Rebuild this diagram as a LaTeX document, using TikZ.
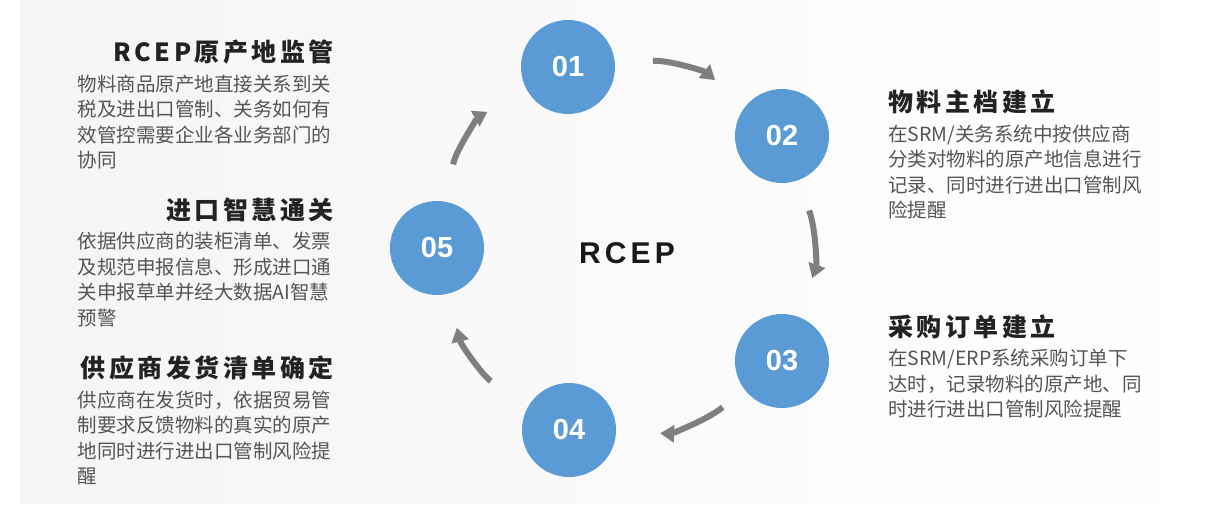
\documentclass[tikz,border=0pt]{standalone}
\usepackage{fontspec}
\setmainfont{Noto Sans CJK SC}
\newfontfamily\headfont{Noto Sans CJK SC}[LetterSpace=14]
\newfontfamily\numfont{Liberation Sans}
\newfontfamily\hubfont{Liberation Sans}[LetterSpace=14]
\usetikzlibrary{arrows.meta, positioning}

\definecolor{stageblue}{HTML}{5B9BD5}
\definecolor{flowgray}{HTML}{7F7F7F}
\definecolor{titlegray}{HTML}{222222}
\definecolor{bodygray}{HTML}{555555}

\begin{document}
\begin{tikzpicture}[
    x=1pt, y=1pt,
    stage/.style={circle, fill=stageblue, minimum size=94pt, inner sep=0pt, text=white, font=\numfont\bfseries\fontsize{29}{31}\selectfont},
    title/.style={inner sep=0pt, text=titlegray, font=\headfont\bfseries\fontsize{25}{29}\selectfont},
    body/.style={inner sep=0pt, align=left, text=bodygray, font=\fontsize{19.5}{25.5}\selectfont},
    flow/.style={line width=6pt, draw=flowgray, -{Triangle[length=14pt, width=17pt]}}
]

% Background
\fill [white] (0,0) rectangle (1222,-515);
\shade [left color=black!4, right color=white] (20,0) rectangle (1222,-503);

% Nodes
\node (c1) [stage] at (568,-67) {01};
\node (c2) [stage] at (782,-136) {02};
\node (c3) [stage] at (782,-361) {03};
\node (c4) [stage] at (569,-430) {04};
\node (c5) [stage] at (437,-248) {05};

\node (hub) at (627,-253) [font=\hubfont\bfseries\fontsize{30}{32}\selectfont, text=black!90] {RCEP};

% Texts
\node (h1) [title, anchor=east] at (334,-52) {RCEP原产地监管};
\node (t1) [body, text width=256pt, below=10pt of h1.south east, anchor=north east] {物料商品原产地直接关系到关\\税及进出口管制、关务如何有\\效管控需要企业各业务部门的\\协同};

\node (h5) [title, anchor=east] at (334,-210) {进口智慧通关};
\node (t5) [body, text width=256pt, below=10pt of h5.south east, anchor=north east] {依据供应商的装柜清单、发票\\及规范申报信息、形成进口通\\关申报草单并经大数据AI智慧\\预警};

\node (h4) [title, anchor=east] at (334,-368) {供应商发货清单确定};
\node (t4) [body, text width=256pt, below=10pt of h4.south east, anchor=north east] {供应商在发货时，依据贸易管\\制要求反馈物料的真实的原产\\地同时进行进出口管制风险提\\醒};

\node (h2) [title, anchor=west] at (888,-102) {物料主档建立};
\node (t2) [body, below=10pt of h2.south west, anchor=north west] {在SRM/关务系统中按供应商\\分类对物料的原产地信息进行\\记录、同时进行进出口管制风\\险提醒};

\node (h3) [title, anchor=west] at (888,-327) {采购订单建立};
\node (t3) [body, below=10pt of h3.south west, anchor=north west] {在SRM/ERP系统采购订单下\\达时，记录物料的原产地、同\\时进行进出口管制风险提醒};

% Arrows
\draw [flow, shorten <=38pt, shorten >=40pt] (c1) to[bend left=22] (c2);
\draw [flow, shorten <=32pt, shorten >=41pt] (c2) to[bend left=20] (c3);
\draw [flow, shorten <=28pt, shorten >=44pt] (c3) to[bend left=20] (c4);
\draw [flow, shorten <=45pt, shorten >=35pt] (c4) to[bend left=22] (c5);
\draw [flow, shorten <=38pt, shorten >=45pt] (c5) to[bend left=25] (c1);

\end{tikzpicture}
\end{document}
